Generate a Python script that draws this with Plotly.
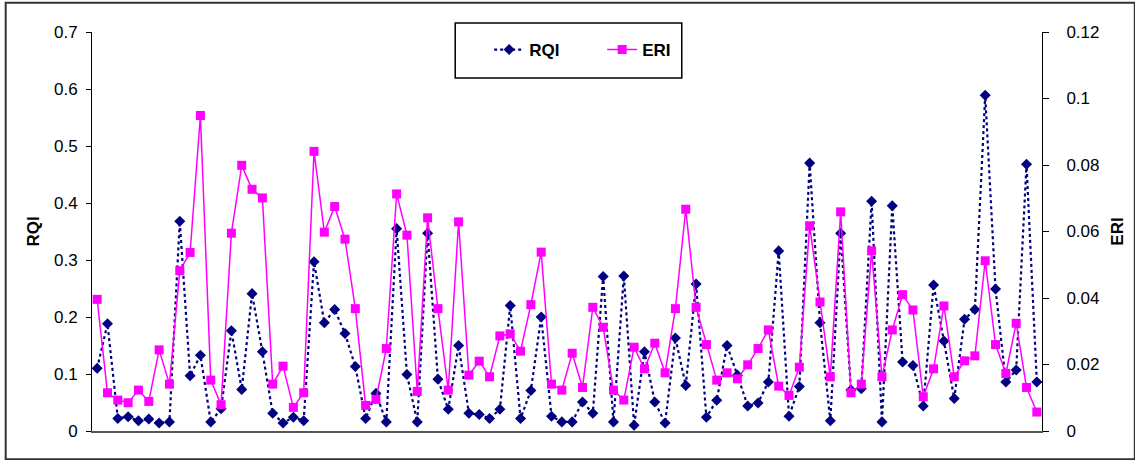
import plotly.graph_objects as go

samples = list(range(1, 93))

rqi = [0.110, 0.188, 0.022, 0.025, 0.018, 0.021, 0.014, 0.016, 0.368, 0.097,
       0.133, 0.016, 0.039, 0.176, 0.073, 0.241, 0.139, 0.031, 0.014, 0.024,
       0.018, 0.297, 0.190, 0.213, 0.171, 0.113, 0.022, 0.066, 0.016, 0.355,
       0.099, 0.016, 0.347, 0.091, 0.038, 0.150, 0.031, 0.029, 0.022, 0.038,
       0.220, 0.022, 0.071, 0.200, 0.026, 0.016, 0.016, 0.051, 0.031, 0.271,
       0.016, 0.272, 0.010, 0.139, 0.051, 0.014, 0.163, 0.080, 0.258, 0.024,
       0.054, 0.150, 0.098, 0.044, 0.049, 0.086, 0.316, 0.026, 0.078, 0.470,
       0.190, 0.018, 0.347, 0.072, 0.074, 0.403, 0.016, 0.395, 0.121, 0.115,
       0.044, 0.256, 0.158, 0.057, 0.196, 0.213, 0.589, 0.249, 0.086, 0.107,
       0.468, 0.086]

eri = [0.0396, 0.0115, 0.0093, 0.0085, 0.0123, 0.0089, 0.0244, 0.0141, 0.0482, 0.0537,
       0.0949, 0.0153, 0.0079, 0.0595, 0.0799, 0.0727, 0.0701, 0.0141, 0.0195, 0.0071,
       0.0115, 0.0841, 0.0598, 0.0675, 0.0577, 0.0368, 0.0077, 0.0095, 0.0248, 0.0713,
       0.0589, 0.0119, 0.0641, 0.0368, 0.0123, 0.0629, 0.0168, 0.0210, 0.0163, 0.0286,
       0.0292, 0.0240, 0.0380, 0.0538, 0.0141, 0.0123, 0.0234, 0.0131, 0.0372, 0.0312,
       0.0123, 0.0093, 0.0252, 0.0187, 0.0264, 0.0175, 0.0368, 0.0667, 0.0372, 0.0260,
       0.0153, 0.0175, 0.0157, 0.0199, 0.0248, 0.0304, 0.0135, 0.0107, 0.0192, 0.0617,
       0.0388, 0.0163, 0.0659, 0.0115, 0.0141, 0.0542, 0.0163, 0.0304, 0.0410, 0.0364,
       0.0103, 0.0187, 0.0376, 0.0163, 0.0211, 0.0226, 0.0512, 0.0260, 0.0173, 0.0324,
       0.0131, 0.0057]

rqi_ticks = [0, 0.1, 0.2, 0.3, 0.4, 0.5, 0.6, 0.7]
rqi_ticktext = ["0", "0.1", "0.2", "0.3", "0.4", "0.5", "0.6", "0.7"]
eri_ticks = [0, 0.02, 0.04, 0.06, 0.08, 0.10, 0.12]
eri_ticktext = ["0", "0.02", "0.04", "0.06", "0.08", "0.1", "0.12"]

FONT = "Liberation Sans, Arial, sans-serif"

fig = go.Figure()
fig.add_trace(go.Scatter(
    x=samples, y=rqi, name="RQI", mode="lines+markers",
    line=dict(color="#000080", width=2.2, dash="dot"),
    marker=dict(symbol="diamond", size=8.5, color="#000080"),
    yaxis="y"))
fig.add_trace(go.Scatter(
    x=samples, y=eri, name="ERI", mode="lines+markers",
    line=dict(color="#FF00FF", width=1.5),
    marker=dict(symbol="square", size=9, color="#FF00FF"),
    yaxis="y2"))

W, H = 1135, 460
L, R, T, B = 92, 91, 32, 29
pw, ph = W - L - R, H - T - B

def px(x):
    return (x - L) / pw

def py(y):
    return (H - B - y) / ph

fig.update_layout(
    width=W, height=H,
    margin=dict(l=L, r=R, t=T, b=B),
    paper_bgcolor="white", plot_bgcolor="white",
    font=dict(family=FONT, size=17, color="black"),
    showlegend=True,
    legend=dict(orientation="h", x=px(490), xanchor="left", y=py(50), yanchor="middle",
                font=dict(family=FONT, size=17, color="black", weight="bold"),
                bgcolor="rgba(0,0,0,0)", borderwidth=0, entrywidth=68),
    xaxis=dict(range=[0.5, 92.5], showticklabels=False, ticks="", showgrid=False,
               zeroline=False, showline=True, linecolor="#555555", linewidth=2),
    yaxis=dict(range=[0, 0.7], tickvals=rqi_ticks, ticktext=rqi_ticktext,
               ticks="outside", ticklen=5, tickcolor="black", tickwidth=1,
               showline=True, linecolor="black", linewidth=1, showgrid=False,
               zeroline=False, ticklabelstandoff=5,
               title=dict(text="<b>RQI</b>", font=dict(size=17), standoff=10)),
    yaxis2=dict(range=[0, 0.12], tickvals=eri_ticks, ticktext=eri_ticktext,
                overlaying="y", side="right",
                ticks="outside", ticklen=6, tickcolor="black", tickwidth=1,
                showline=True, linecolor="black", linewidth=1, showgrid=False,
                zeroline=False, ticklabelstandoff=14,
                title=dict(text="<b>ERI</b>", font=dict(size=17), standoff=12)),
    shapes=[
        dict(type="rect", xref="paper", yref="paper",
             x0=px(456), x1=px(683), y0=py(78), y1=py(23),
             line=dict(color="black", width=1.5), fillcolor="rgba(0,0,0,0)", layer="above"),
        dict(type="rect", xref="paper", yref="paper",
             x0=px(5.5), x1=px(1137), y0=py(459.3), y1=py(2.7),
             line=dict(color="#333333", width=2), fillcolor="rgba(0,0,0,0)", layer="above"),
    ],
)

fig.write_html("out.html")
